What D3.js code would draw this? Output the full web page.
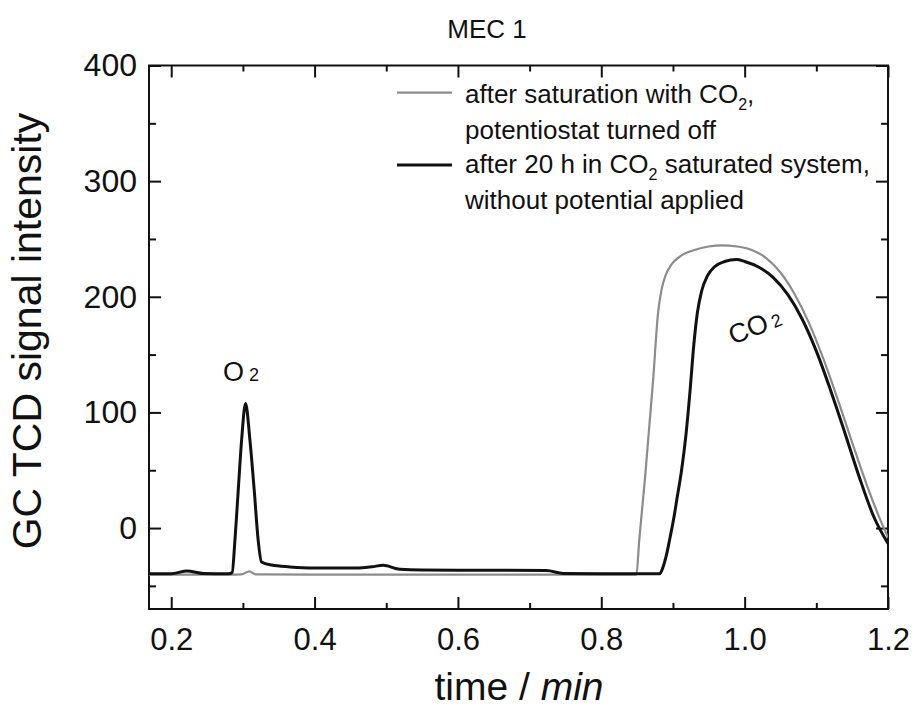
<!DOCTYPE html>
<html><head><meta charset="utf-8">
<script src="https://cdn.jsdelivr.net/npm/d3@7"></script>
<style>
body{margin:0;background:#fff}
text{font-family:Arial,"Liberation Sans",sans-serif;fill:#111}
</style>
</head><body><svg id="c" width="915" height="710"></svg>
<script>
// ---- data ----
const chartTitle = "MEC 1";
// gray series: after saturation with CO2, potentiostat turned off
const timeGray = [0.169,0.28,0.298,0.3088,0.318,0.40,0.60,0.80,0.849,0.853,0.8607,0.8722,0.8792,0.884,0.890,0.898,0.91,0.93,0.95,0.9676,0.99,1.01,1.03,1.05,1.07,1.09,1.11,1.13,1.15,1.17,1.19,1.2];
const valGray  = [-40.3,-40.3,-40.1,-37.4,-40.1,-40.3,-40.3,-40.3,-40.3,-10,41,127,186,206,219,228,235,240.5,243.5,244.5,243.5,240.5,233.5,221,202,177,146,111,74,38,6,-8];
// black series: after 20 h in CO2 saturated system, without potential applied
const timeBlack = [0.169,0.20,0.222,0.245,0.28,0.285,0.2889,0.2935,0.2982,0.3037,0.3098,0.3158,0.3213,0.326,0.34,0.3656,0.398,0.4586,0.48,0.4957,0.519,0.55,0.65,0.7236,0.747,0.80,0.8816,0.886,0.891,0.896,0.901,0.906,0.912,0.918,0.924,0.929,0.934,0.940,0.948,0.958,0.972,0.9886,1.00,1.02,1.04,1.06,1.08,1.10,1.12,1.14,1.16,1.18,1.2];
const valBlack  = [-39.5,-39.5,-37.2,-39.3,-39.6,-38.5,-10.5,32.7,76,107.7,76,32.7,-10.5,-29.3,-32,-33.6,-34.6,-34.6,-33.5,-32.2,-35.7,-36.3,-36.5,-36.8,-39.3,-39.5,-39.5,-34,-23,-8,8,27,50,80,120,158,186,205,218,226,230.5,232.2,230.5,225.5,216.5,202,181,153,119,82,44,10,-13.4];
const legendLabels = [
  ["after saturation with CO", "2", ","], ["potentiostat turned off"],
  ["after 20 h in CO", "2", " saturated system,"], ["without potential applied"]
];
const xMajorTicks = [0.2,0.4,0.6,0.8,1.0,1.2];
const xMinorTicks = [0.3,0.5,0.7,0.9,1.1];
const yMajorTicks = [0,100,200,300,400];
const yMinorTicks = [-50,50,150,250,350];
const xDomain = [0.169,1.2];
const yDomain = [-70,400];

// ---- layout ----
const svg = d3.select("#c");
const L=149, T=65.5, R=888, B=609;
const x = d3.scaleLinear().domain(xDomain).range([L,R]);
const y = d3.scaleLinear().domain(yDomain).range([B,T]);
const ink="#111", grayCol="#8c8c8c";

svg.append("rect").attr("width",915).attr("height",710).attr("fill","#fff");

function styleAxis(g){
  g.select(".domain").remove();
  g.selectAll(".tick line").attr("stroke",ink).attr("stroke-width",2);
  g.selectAll(".tick text").attr("fill",ink).attr("font-family","Arial, 'Liberation Sans', sans-serif");
}
const fx = d3.format(".1f");
// bottom
svg.append("g").attr("transform",`translate(0,${B})`)
  .call(d3.axisBottom(x).tickValues(xMajorTicks).tickSize(-12).tickPadding(19).tickFormat(fx))
  .call(styleAxis).selectAll("text").attr("font-size",31);
svg.append("g").attr("transform",`translate(0,${B})`)
  .call(d3.axisBottom(x).tickValues(xMinorTicks).tickSize(-6).tickFormat("")).call(styleAxis);
// top
svg.append("g").attr("transform",`translate(0,${T})`)
  .call(d3.axisTop(x).tickValues(xMajorTicks).tickSize(-12).tickFormat("")).call(styleAxis);
svg.append("g").attr("transform",`translate(0,${T})`)
  .call(d3.axisTop(x).tickValues(xMinorTicks).tickSize(-6).tickFormat("")).call(styleAxis);
// left
svg.append("g").attr("transform",`translate(${L},0)`)
  .call(d3.axisLeft(y).tickValues(yMajorTicks).tickSize(-12).tickPadding(12).tickFormat(d3.format("d")))
  .call(styleAxis).selectAll("text").attr("font-size",32);
svg.append("g").attr("transform",`translate(${L},0)`)
  .call(d3.axisLeft(y).tickValues(yMinorTicks).tickSize(-7).tickFormat("")).call(styleAxis);
// right
svg.append("g").attr("transform",`translate(${R},0)`)
  .call(d3.axisRight(y).tickValues(yMajorTicks).tickSize(-12).tickFormat("")).call(styleAxis);
svg.append("g").attr("transform",`translate(${R},0)`)
  .call(d3.axisRight(y).tickValues(yMinorTicks).tickSize(-7).tickFormat("")).call(styleAxis);

// frame
svg.append("rect").attr("x",L).attr("y",T).attr("width",R-L).attr("height",B-T)
  .attr("fill","none").attr("stroke",ink).attr("stroke-width",2);

// lines
svg.append("clipPath").attr("id","pc").append("rect")
  .attr("x",L).attr("y",T).attr("width",R-L).attr("height",B-T);
const line = d3.line().x(d=>x(d[0])).y(d=>y(d[1])).curve(d3.curveMonotoneX);
const grayData = timeGray.map((t,i)=>[t,valGray[i]]);
const blackData = timeBlack.map((t,i)=>[t,valBlack[i]]);
svg.append("path").datum(grayData).attr("d",line).attr("fill","none")
  .attr("stroke",grayCol).attr("stroke-width",2.2).attr("clip-path","url(#pc)");
svg.append("path").datum(blackData).attr("d",line).attr("fill","none")
  .attr("stroke",ink).attr("stroke-width",3).attr("clip-path","url(#pc)");

// title
svg.append("text").attr("x",487).attr("y",38).attr("text-anchor","middle")
  .attr("font-size",26).text(chartTitle);

// axis labels
const xl = svg.append("text").attr("x",519).attr("y",700).attr("text-anchor","middle").attr("font-size",39);
xl.append("tspan").text("time / ");
xl.append("tspan").attr("font-style","italic").text("min");
svg.append("text").attr("transform","translate(41,331) rotate(-90)").attr("text-anchor","middle")
  .attr("font-size",41).text("GC TCD signal intensity");

// legend
const lg = svg.append("g");
lg.append("line").attr("x1",397).attr("x2",452).attr("y1",92.7).attr("y2",92.7)
  .attr("stroke",grayCol).attr("stroke-width",2.2);
lg.append("line").attr("x1",397).attr("x2",452).attr("y1",165).attr("y2",165)
  .attr("stroke",ink).attr("stroke-width",3);
const fs = 26, baselines = [103,139,173,209];
legendLabels.forEach((parts,i)=>{
  const t = lg.append("text").attr("x",465).attr("y",baselines[i]).attr("font-size",fs);
  t.append("tspan").text(parts[0]);
  if(parts.length>1){
    t.append("tspan").attr("font-size",16).attr("dy",7).text(parts[1]);
    t.append("tspan").attr("dy",-7).text(parts[2]);
  }
});

// peak annotations
const o2 = svg.append("text").attr("x",223).attr("y",381).attr("font-size",27);
o2.append("tspan").text("O");
o2.append("tspan").attr("font-size",18).attr("dx",5).text("2");
const co2 = svg.append("text").attr("transform","translate(733,345) rotate(-22)").attr("font-size",27);
co2.append("tspan").text("CO");
co2.append("tspan").attr("font-size",18).attr("dx",4).text("2");
</script>
</body></html>
